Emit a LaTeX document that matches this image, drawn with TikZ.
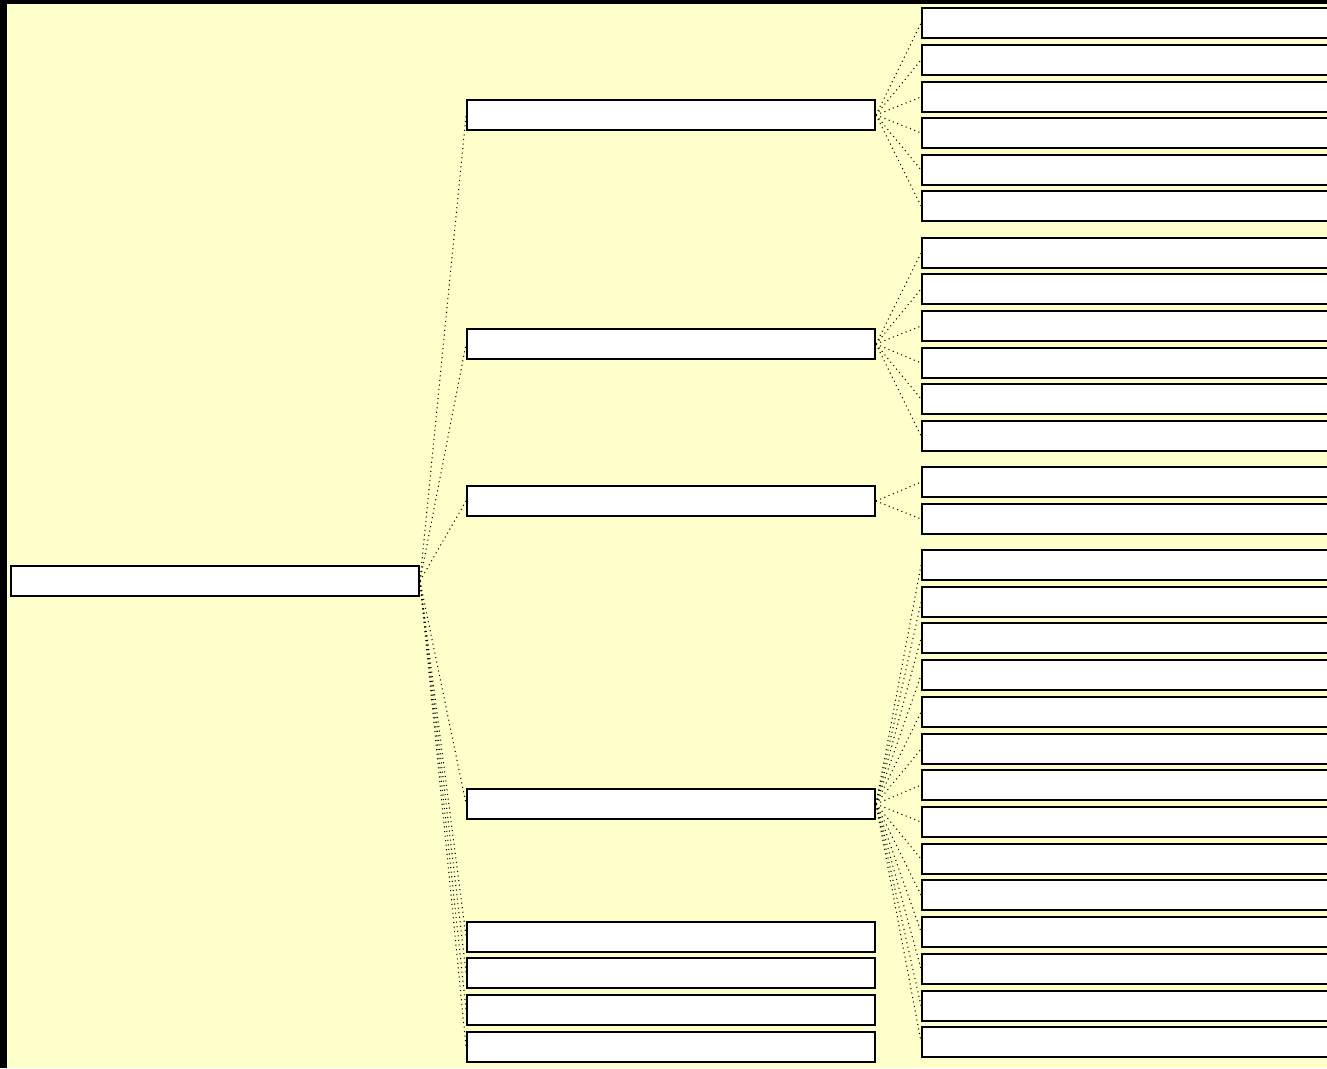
\documentclass[tikz,border=0pt]{standalone}
\usepackage{tikz}

\definecolor{paper}{RGB}{255,255,204}

\begin{document}
\begin{tikzpicture}[x=0.02cm,y=-0.02cm,
  box/.style={rectangle,draw,fill=white,line width=1.1pt,inner sep=0pt,minimum width=8.16cm,minimum height=0.6cm},
  link/.style={dotted,line width=0.6pt}]
\clip (0,0) rectangle (1327,1068);
\fill[black] (0,0) rectangle (1327,1068);
\fill[paper] (7,4) rectangle (1327,1068);

% Tree of empty boxes
\node[box] (root) at (215,581) {};

\node[box] (a) at (671,115) {};
\node[box] (b) at (671,344) {};
\node[box] (c) at (671,501) {};
\node[box] (d) at (671,804) {};
\node[box] (e) at (671,937) {};
\node[box] (f) at (671,973) {};
\node[box] (g) at (671,1010) {};
\node[box] (h) at (671,1047) {};

\node[box] (a1) at (1126,23) {};
\node[box] (a2) at (1126,60) {};
\node[box] (a3) at (1126,97) {};
\node[box] (a4) at (1126,133) {};
\node[box] (a5) at (1126,170) {};
\node[box] (a6) at (1126,206) {};

\node[box] (b1) at (1126,253) {};
\node[box] (b2) at (1126,289) {};
\node[box] (b3) at (1126,326) {};
\node[box] (b4) at (1126,363) {};
\node[box] (b5) at (1126,399) {};
\node[box] (b6) at (1126,436) {};

\node[box] (c1) at (1126,482) {};
\node[box] (c2) at (1126,519) {};

\node[box] (d1) at (1126,565) {};
\node[box] (d2) at (1126,602) {};
\node[box] (d3) at (1126,638) {};
\node[box] (d4) at (1126,675) {};
\node[box] (d5) at (1126,712) {};
\node[box] (d6) at (1126,749) {};
\node[box] (d7) at (1126,785) {};
\node[box] (d8) at (1126,822) {};
\node[box] (d9) at (1126,859) {};
\node[box] (d10) at (1126,895) {};
\node[box] (d11) at (1126,932) {};
\node[box] (d12) at (1126,969) {};
\node[box] (d13) at (1126,1006) {};
\node[box] (d14) at (1126,1042) {};

\draw[link] (root.east) -- (a.west);
\draw[link] (root.east) -- (b.west);
\draw[link] (root.east) -- (c.west);
\draw[link] (root.east) -- (d.west);
\draw[link] (root.east) -- (e.west);
\draw[link] (root.east) -- (f.west);
\draw[link] (root.east) -- (g.west);
\draw[link] (root.east) -- (h.west);

\draw[link] (a.east) -- (a1.west);
\draw[link] (a.east) -- (a2.west);
\draw[link] (a.east) -- (a3.west);
\draw[link] (a.east) -- (a4.west);
\draw[link] (a.east) -- (a5.west);
\draw[link] (a.east) -- (a6.west);

\draw[link] (b.east) -- (b1.west);
\draw[link] (b.east) -- (b2.west);
\draw[link] (b.east) -- (b3.west);
\draw[link] (b.east) -- (b4.west);
\draw[link] (b.east) -- (b5.west);
\draw[link] (b.east) -- (b6.west);

\draw[link] (c.east) -- (c1.west);
\draw[link] (c.east) -- (c2.west);

\draw[link] (d.east) -- (d1.west);
\draw[link] (d.east) -- (d2.west);
\draw[link] (d.east) -- (d3.west);
\draw[link] (d.east) -- (d4.west);
\draw[link] (d.east) -- (d5.west);
\draw[link] (d.east) -- (d6.west);
\draw[link] (d.east) -- (d7.west);
\draw[link] (d.east) -- (d8.west);
\draw[link] (d.east) -- (d9.west);
\draw[link] (d.east) -- (d10.west);
\draw[link] (d.east) -- (d11.west);
\draw[link] (d.east) -- (d12.west);
\draw[link] (d.east) -- (d13.west);
\draw[link] (d.east) -- (d14.west);
\end{tikzpicture}
\end{document}
